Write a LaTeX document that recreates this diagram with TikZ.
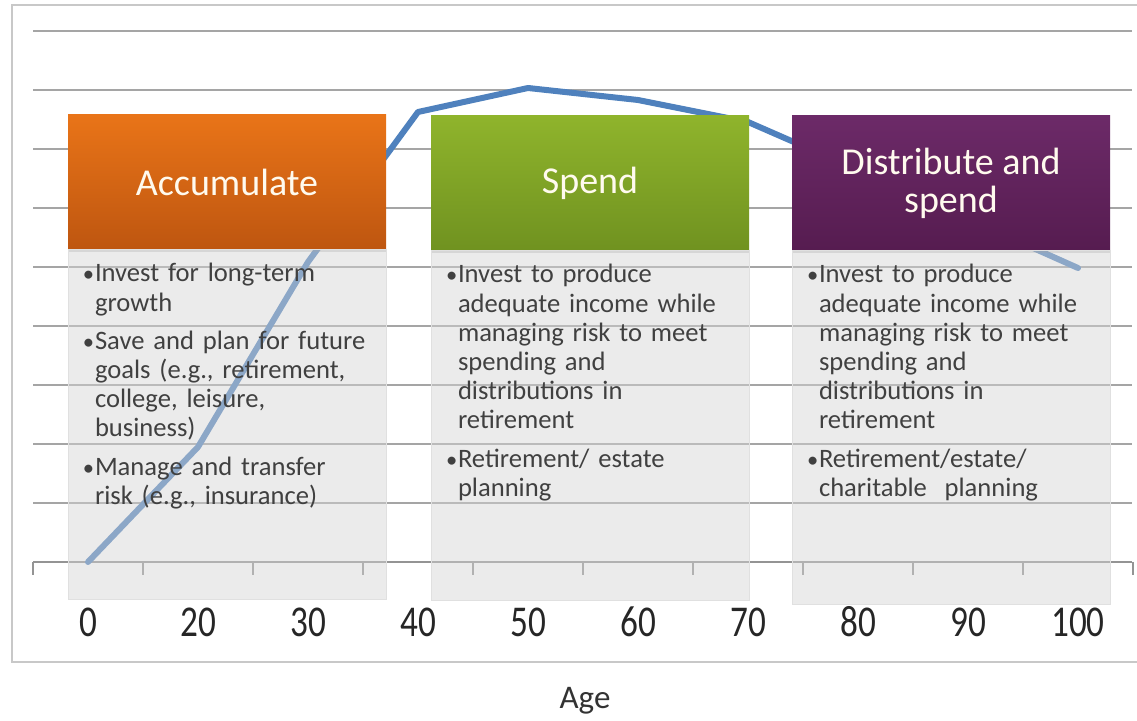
\documentclass[tikz,border=0pt]{standalone}
\usepackage{fontspec}
\setmainfont{Carlito}
\newfontfamily\digitfont[FakeStretch=0.8]{Carlito}
\usetikzlibrary{positioning,shadows}

\definecolor{framegray}{RGB}{200,200,200}
\definecolor{gridgray}{RGB}{165,165,165}
\definecolor{lineblue}{RGB}{79,129,189}
\definecolor{acctop}{RGB}{233,116,24}
\definecolor{accbot}{RGB}{190,86,16}
\definecolor{spdtop}{RGB}{143,180,44}
\definecolor{spdbot}{RGB}{112,146,32}
\definecolor{distop}{RGB}{108,42,104}
\definecolor{disbot}{RGB}{86,28,80}
\definecolor{headtext}{RGB}{255,250,238}
\definecolor{bodytext}{RGB}{64,64,64}

\tikzstyle{frame} = [draw=framegray, line width=1pt]
\tikzstyle{grid} = [draw=gridgray, line width=0.7pt]
\tikzstyle{ageline} = [draw=lineblue, line width=3pt, line join=round, line cap=round]
\tikzstyle{header} = [minimum width=159pt, minimum height=67pt, inner sep=0pt, align=center,
  text=headtext, font=\fontsize{19}{19}\selectfont,
  drop shadow={shadow xshift=0pt, shadow yshift=-1.5pt, opacity=0.3}]
\tikzstyle{body} = [draw=black!12, fill=black!17, fill opacity=0.46, minimum width=159pt,
  minimum height=175pt, inner sep=0pt]
\tikzstyle{bodytext} = [anchor=north west, inner sep=0pt, text width=152pt, align=left,
  text=bodytext, font=\fontsize{13.3}{14.6}\selectfont, xshift=7.5pt, yshift=3pt]
\tikzstyle{agelabel} = [font=\digitfont\fontsize{22}{24}\selectfont, text=black!85]

% one bullet point, later lines hang under the text
\newcommand{\bitem}[1]{\par\hangindent=6pt\hangafter=1\noindent
  \makebox[6pt][l]{\scalebox{0.85}{\textbullet}}#1\par}

\begin{document}
\begin{tikzpicture}[x=0.5pt, y=-0.5pt]
  \useasboundingbox (0,0) rectangle (1137,721);

  % chart frame, open to the right
  \draw[frame] (1145,5) -- (12,5) -- (12,662) -- (1145,662);

  % horizontal grid and age axis
  \foreach \k in {1,...,9}
    \draw[grid] (33,562-59*\k) -- (1132,562-59*\k);
  \draw[grid, draw=gridgray!90!black] (33,562) -- (1132,562);
  \foreach \k in {0,...,10}
    \draw[grid, draw=gridgray!90!black] (33+110*\k,562) -- (33+110*\k,575);
  \foreach \lbl [count=\n from 0] in {0,20,30,40,50,60,70,80,90,100}
    \node[agelabel] (age\n) at (88+110*\n,622) {\lbl};
  \node[font=\fontsize{16.5}{18}\selectfont, text=black!80] (axistitle) at (585,701) {Age};

  % wealth curve
  \draw[ageline] plot coordinates {(88,562) (198,447) (308,262) (418,112) (528,88)
    (638,100) (748,122) (858,170) (968,219) (1078,268)};

  % the three phases
  \node[header, top color=acctop, bottom color=accbot] (acc) at (227,182) {Accumulate};
  \node[header, top color=spdtop, bottom color=spdbot] (spd) at (590,183) {Spend};
  \node[header, top color=distop, bottom color=disbot] (dis) at (951,183)
    {Distribute and\\spend};

  \node[body, below=0pt of acc] (accbody) {};
  \node[body, below=0pt of spd] (spdbody) {};
  \node[body, below=0pt of dis, minimum height=177pt] (disbody) {};

  \node[bodytext] (acctext) at (accbody.north west) {\setlength{\parskip}{4.5pt}%
    \bitem{Invest for long-term\newline growth}
    \bitem{Save and plan for future\newline goals (e.g., retirement,\newline college, leisure,\newline business)}
    \bitem{Manage and transfer\newline risk (e.g., insurance)}};
  \node[bodytext] (spdtext) at (spdbody.north west) {\setlength{\parskip}{4.5pt}%
    \bitem{Invest to produce\newline adequate income while\newline managing risk to meet\newline spending and\newline distributions in\newline retirement}
    \bitem{Retirement/ estate\newline planning}};
  \node[bodytext] (distext) at (disbody.north west) {\setlength{\parskip}{4.5pt}%
    \bitem{Invest to produce\newline adequate income while\newline managing risk to meet\newline spending and\newline distributions in\newline retirement}
    \bitem{Retirement/estate/\newline charitable\ \ planning}};
\end{tikzpicture}
\end{document}
